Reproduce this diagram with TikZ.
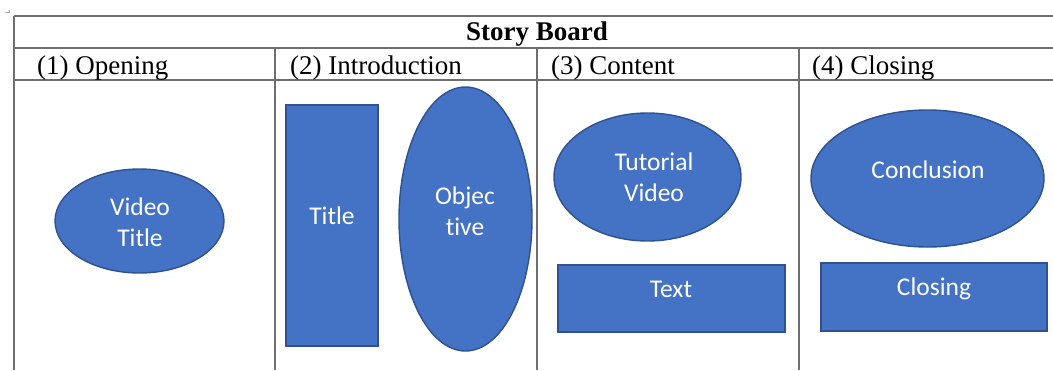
\documentclass[tikz,border=0pt]{standalone}
\usepackage{fontspec}
\setmainfont{Liberation Serif}
\newfontfamily\shapefont[Ligatures=NoCommon]{Carlito}
\usetikzlibrary{shapes.geometric}
\definecolor{boxblue}{HTML}{4472C4}
\definecolor{boxedge}{HTML}{2F528F}
\definecolor{rulegray}{HTML}{6E6E6E}
\tikzset{
  grid/.style={draw=rulegray, line width=1.1pt},
  blob/.style={ellipse, fill=boxblue, draw=boxedge, line width=1.4pt, inner sep=0pt},
  slab/.style={rectangle, fill=boxblue, draw=boxedge, line width=1.4pt, inner sep=0pt},
  tag/.style={text=white, font=\shapefont\fontsize{25.5}{31.5}\selectfont, align=center, inner sep=0pt},
  head/.style={font=\fontsize{27}{32}\selectfont, inner sep=0pt, anchor=west},
}
\begin{document}
\begin{tikzpicture}[x=1pt, y=-1pt]
  \useasboundingbox (0,0) rectangle (1053,370);
  % table rules
  \coordinate (tl) at (14,16);
  \coordinate (tr) at (1053,16);
  \coordinate (ml) at (14,48);
  \coordinate (mr) at (1053,48);
  \coordinate (bl) at (14,80);
  \coordinate (br) at (1053,80);
  \coordinate (foot) at (14,370);
  \draw[grid] (tl) -- (tr);
  \draw[grid] (ml) -- (mr);
  \draw[grid] (bl) -- (br);
  \draw[grid] (tl) -- (foot);
  \foreach \cx in {275,537,799} {
    \draw[grid] (\cx,48) -- (\cx,370);
  }
  % little corner mark
  \draw[gray!60, line width=0.6pt] (5,12.5) -- (9,12.5) -- (9,9.5);
  % headings
  \node[font=\bfseries\fontsize{27}{32}\selectfont, inner sep=0pt] (title) at (537,34.5) {Story Board};
  \node[head] (h1) at (37,68) {(1) Opening};
  \node[head] (h2) at (290,68) {(2) Introduction};
  \node[head] (h3) at (551,68) {(3) Content};
  \node[head] (h4) at (812,68) {(4) Closing};
  % (1) opening
  \node[blob, minimum width=169pt, minimum height=104pt] (vt) at (139.5,221) {};
  \node[tag] (vtt) at (140,222) {Video\\Title};
  % (2) introduction
  \node[slab, minimum width=92pt, minimum height=241pt] (tr1) at (332,225.5) {};
  \node[tag] (trt) at (332,216) {Title};
  \node[blob, minimum width=133pt, minimum height=264pt] (ob) at (465.5,219) {};
  \node[tag] (obt) at (465,211) {Objec\\tive};
  % (3) content
  \node[blob, minimum width=187pt, minimum height=128pt] (tv) at (647.5,177) {};
  \node[tag] (tvt) at (654,177) {Tutorial\\Video};
  \node[slab, minimum width=227pt, minimum height=67pt] (tx) at (671.5,298.5) {};
  \node[tag] (txt) at (671,289) {Text};
  % (4) closing
  \node[blob, minimum width=233pt, minimum height=137pt] (cc) at (927.5,178.5) {};
  \node[tag] (cct) at (928,170) {Conclusion};
  \node[slab, minimum width=226pt, minimum height=68pt] (cl) at (934,297) {};
  \node[tag] (clt) at (934,289) {Closing};
\end{tikzpicture}
\end{document}
